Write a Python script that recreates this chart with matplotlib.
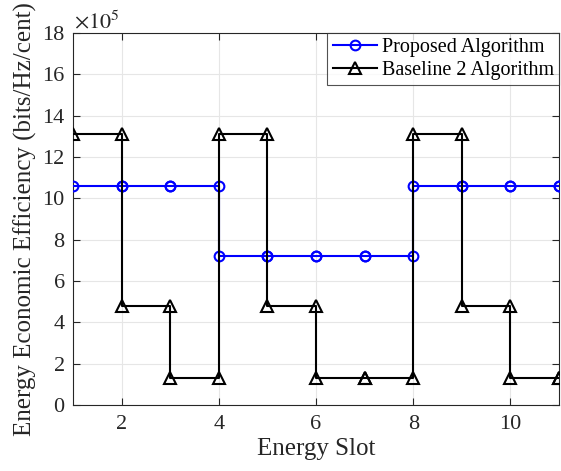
import numpy as np
import matplotlib
matplotlib.use("Agg")
import matplotlib.pyplot as plt

slots = [1, 2, 3, 4, 5, 6, 7, 8, 9, 10, 11]
proposed = [10.6, 10.6, 10.6, 7.2, 7.2, 7.2, 7.2, 10.6, 10.6, 10.6, 10.6]
baseline2 = [13.1, 4.8, 1.3, 13.1, 4.8, 1.3, 1.3, 13.1, 4.8, 1.3, 1.3]
labels = ["Proposed Algorithm", "Baseline 2 Algorithm"]

plt.rcParams['font.family'] = ['Liberation Serif', 'DejaVu Serif']
plt.rcParams['mathtext.fontset'] = 'stix'

def stairs(x, y):
    x = np.asarray(x, float); y = np.asarray(y, float)
    xs = np.empty(2 * len(x) - 1); ys = np.empty(2 * len(x) - 1)
    xs[0::2] = x; ys[0::2] = y
    xs[1::2] = x[1:]; ys[1::2] = y[:-1]
    return xs, ys

fig = plt.figure(figsize=(5.61, 4.71), dpi=100)
ax = fig.add_axes([73/561, 1 - 405/471, (559-73)/561, (405-33)/471])

gray = '#262626'
xs, ys = stairs(slots, proposed)
ax.plot(xs, ys, color='#0000ff', lw=1.5, marker='o', ms=7, mfc='none', mew=1.5,
        label=labels[0], zorder=3)
xs, ys = stairs(slots, baseline2)
ax.plot(xs, ys, color='black', lw=1.5, marker='^', ms=9, mfc='none', mew=1.5,
        label=labels[1], zorder=4)

ax.set_xlim(1, 11)
ax.set_ylim(0, 18)
ax.set_xticks([2, 4, 6, 8, 10])
ax.set_yticks(range(0, 19, 2))
ax.grid(True, color='#e6e6e6', lw=0.8)
ax.set_axisbelow(True)
for s in ax.spines.values():
    s.set_color(gray); s.set_linewidth(0.8)
ax.tick_params(direction='in', length=5, colors=gray, labelsize=16,
               top=True, right=True)
ax.tick_params(axis='x', pad=7)
ax.tick_params(axis='y', pad=6)
ax.set_xlabel("Energy Slot", fontsize=18, color=gray, labelpad=3)
ax.set_ylabel("Energy Economic Efficiency (bits/Hz/cent)", fontsize=18, color=gray, labelpad=4)
ax.text(0.003, 1.0, r"$\times 10^5$", transform=ax.transAxes, fontsize=16,
        color=gray, ha='left', va='bottom')

leg = ax.legend(loc='upper right', fontsize=14.5, frameon=True, fancybox=False,
                edgecolor=gray, borderpad=0.25, labelspacing=0.2, handlelength=2.2,
                handletextpad=0.25, borderaxespad=0)
leg.get_frame().set_linewidth(0.8)

fig.savefig("out.png", dpi=100)
